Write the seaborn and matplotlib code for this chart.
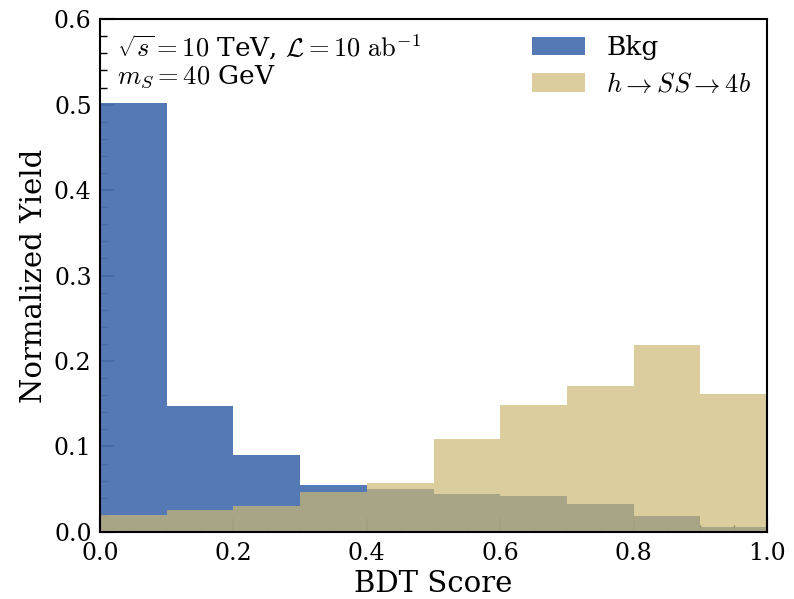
import numpy as np
import pandas as pd
import matplotlib
matplotlib.use("Agg")
import matplotlib.pyplot as plt
from matplotlib.ticker import MultipleLocator
import seaborn as sns

bin_edges = [0.0, 0.1, 0.2, 0.3, 0.4, 0.5, 0.6, 0.7, 0.8, 0.9, 1.0]
bin_centers = [0.05, 0.15, 0.25, 0.35, 0.45, 0.55, 0.65, 0.75, 0.85, 0.95]
bkg_yield = [0.502, 0.147, 0.090, 0.055, 0.050, 0.044, 0.042, 0.033, 0.019, 0.006]
sig_yield = [0.020, 0.026, 0.030, 0.047, 0.057, 0.109, 0.149, 0.171, 0.219, 0.161]
labels = ["Bkg", r"$h \to SS \to 4b$"]

sns.set_style("ticks")
plt.rcParams["font.family"] = ["DejaVu Serif"]
plt.rcParams["mathtext.fontset"] = "cm"
for k in ["text.color", "axes.labelcolor", "xtick.color", "ytick.color", "axes.edgecolor"]:
    plt.rcParams[k] = "black"

fig = plt.figure(figsize=(7.94, 5.99), dpi=100)
ax = fig.add_axes([0.126, 0.112, 0.840, 0.856])

sns.histplot(x=bin_centers, weights=bkg_yield, bins=bin_edges, stat="count",
             color="#4C72B0", alpha=0.95, linewidth=0, label=labels[0], ax=ax)
sns.histplot(x=bin_centers, weights=sig_yield, bins=bin_edges, stat="count",
             color="#CCB974", alpha=0.7, linewidth=0, label=labels[1], ax=ax)

ax.set_xlim(0, 1)
ax.set_ylim(0, 0.6)
ax.set_xlabel("BDT Score", fontsize=21, labelpad=4)
ax.set_ylabel("Normalized Yield", fontsize=21, labelpad=4)
ax.xaxis.set_major_locator(MultipleLocator(0.2))
ax.xaxis.set_minor_locator(MultipleLocator(0.05))
ax.yaxis.set_major_locator(MultipleLocator(0.1))
ax.yaxis.set_minor_locator(MultipleLocator(0.02))
ax.tick_params(which="both", direction="in", labelsize=17)
ax.tick_params(which="major", length=10, width=1.5)
ax.tick_params(which="minor", length=5, width=1.0)
ax.tick_params(axis="x", which="major", pad=7)
ax.tick_params(axis="y", which="major", pad=6)
for s in ax.spines.values():
    s.set_visible(True)
    s.set_linewidth(1.5)

ax.text(0.025, 0.975, r"$\sqrt{s} = 10$ TeV, $\mathcal{L} = 10\ \mathrm{ab}^{-1}$" + "\n" + r"$m_S = 40$ GeV",
        transform=ax.transAxes, fontsize=19, va="top", ha="left", linespacing=1.1)

ax.legend(loc="upper right", frameon=False, fontsize=19, handlelength=2.0,
          borderaxespad=0.2, labelspacing=0.45)

fig.savefig("out.png", dpi=100)
